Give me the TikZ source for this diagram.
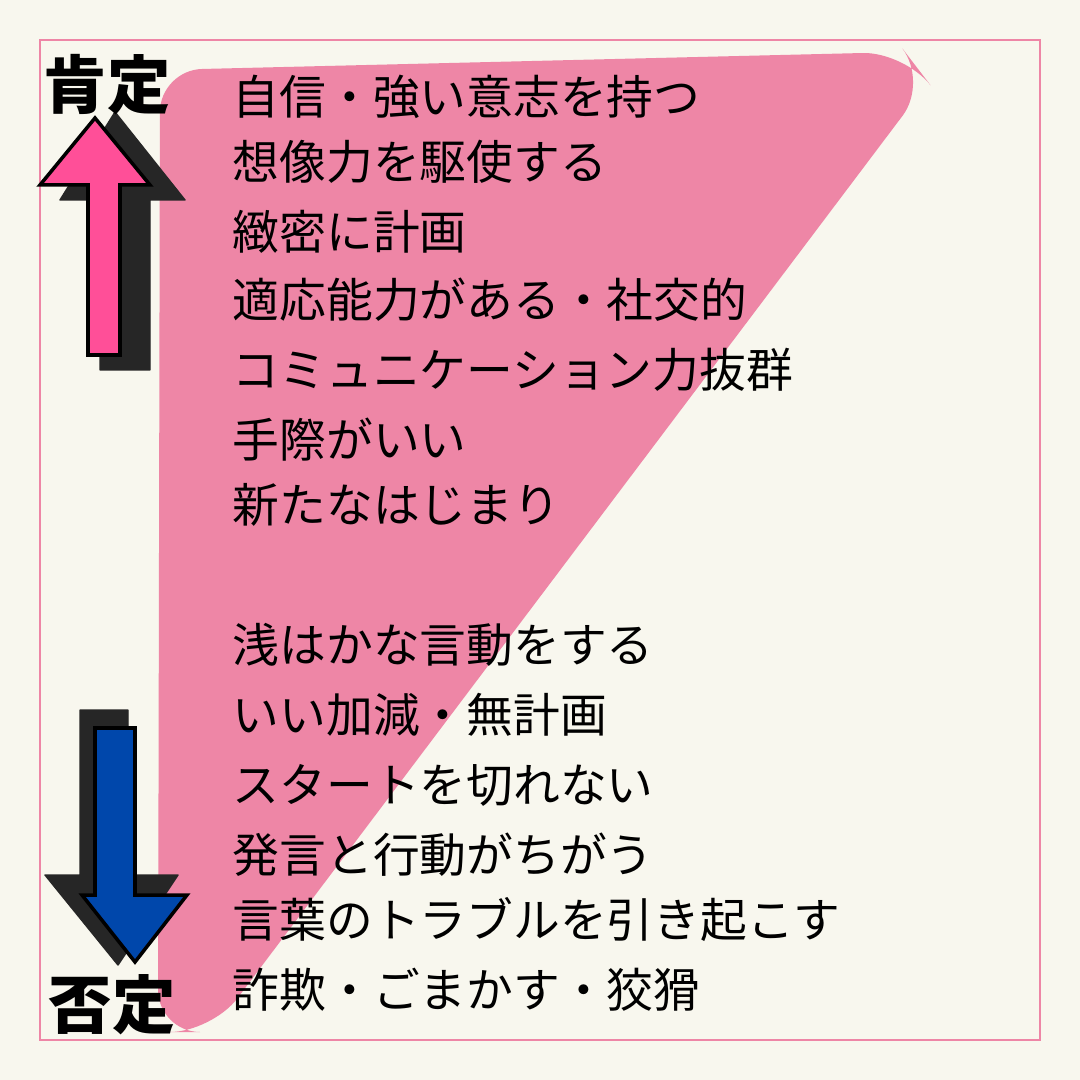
\documentclass[tikz,border=0pt]{standalone}
\usepackage{fontspec}
\newfontfamily\cjk{Noto Sans CJK JP}
\definecolor{paper}{HTML}{F8F7EE}
\definecolor{rose}{HTML}{EE86A6}
\definecolor{hotpink}{HTML}{FF4F98}
\definecolor{deepblue}{HTML}{0047AB}
\tikzset{
  trait/.style={anchor=west, font=\cjk\fontsize{13.3}{15}\selectfont, inner sep=0pt},
  head/.style={font=\cjk\bfseries\fontsize{18}{20}\selectfont, inner sep=0pt},
  shadow/.style={fill=black!85, draw=black!85, line join=round}
}
\begin{document}
\begin{tikzpicture}[x=0.01cm, y=-0.01cm]
  \useasboundingbox[fill=paper] (0,0) rectangle (1080,1080);
  \draw[rose, line width=0.8pt] (40,40) rectangle (1040,1040);

  % triangle
  \fill[rose, rounded corners=12pt] (160,70) -- (905,52) -- (928,82) -- (212,1032) -- (158,1032) -- cycle;

  % up arrow
  \fill[shadow] (115,112) -- (185,200) -- (150,200) -- (150,370) -- (100,370) -- (100,200) -- (60,200) -- cycle;
  \fill[hotpink, draw=black, line width=1pt] (95,118) -- (150,185) -- (120,185) -- (120,355) -- (88,355) -- (88,185) -- (40,185) -- cycle;

  % down arrow
  \fill[shadow] (80,710) -- (128,710) -- (128,875) -- (178,875) -- (118,965) -- (45,875) -- (80,875) -- cycle;
  \fill[deepblue, draw=black, line width=1pt] (95,728) -- (135,728) -- (135,895) -- (187,895) -- (135,962) -- (82,895) -- (95,895) -- cycle;

  \node[head] (pos) at (107,85) {肯定};
  \node[head] (neg) at (112,1005) {否定};

  \node[trait] (t1) at (232,97) {自信・強い意志を持つ};
  \node[trait] (t2) at (232,162) {想像力を駆使する};
  \node[trait] (t3) at (232,232) {緻密に計画};
  \node[trait] (t4) at (232,300) {適応能力がある・社交的};
  \node[trait] (t5) at (232,370) {コミュニケーション力抜群};
  \node[trait] (t6) at (232,440) {手際がいい};
  \node[trait] (t7) at (232,505) {新たなはじまり};
  \node[trait] (b1) at (232,645) {浅はかな言動をする};
  \node[trait] (b2) at (232,715) {いい加減・無計画};
  \node[trait] (b3) at (232,785) {スタートを切れない};
  \node[trait] (b4) at (232,855) {発言と行動がちがう};
  \node[trait] (b5) at (232,920) {言葉のトラブルを引き起こす};
  \node[trait] (b6) at (232,990) {詐欺・ごまかす・狡猾};
\end{tikzpicture}
\end{document}
